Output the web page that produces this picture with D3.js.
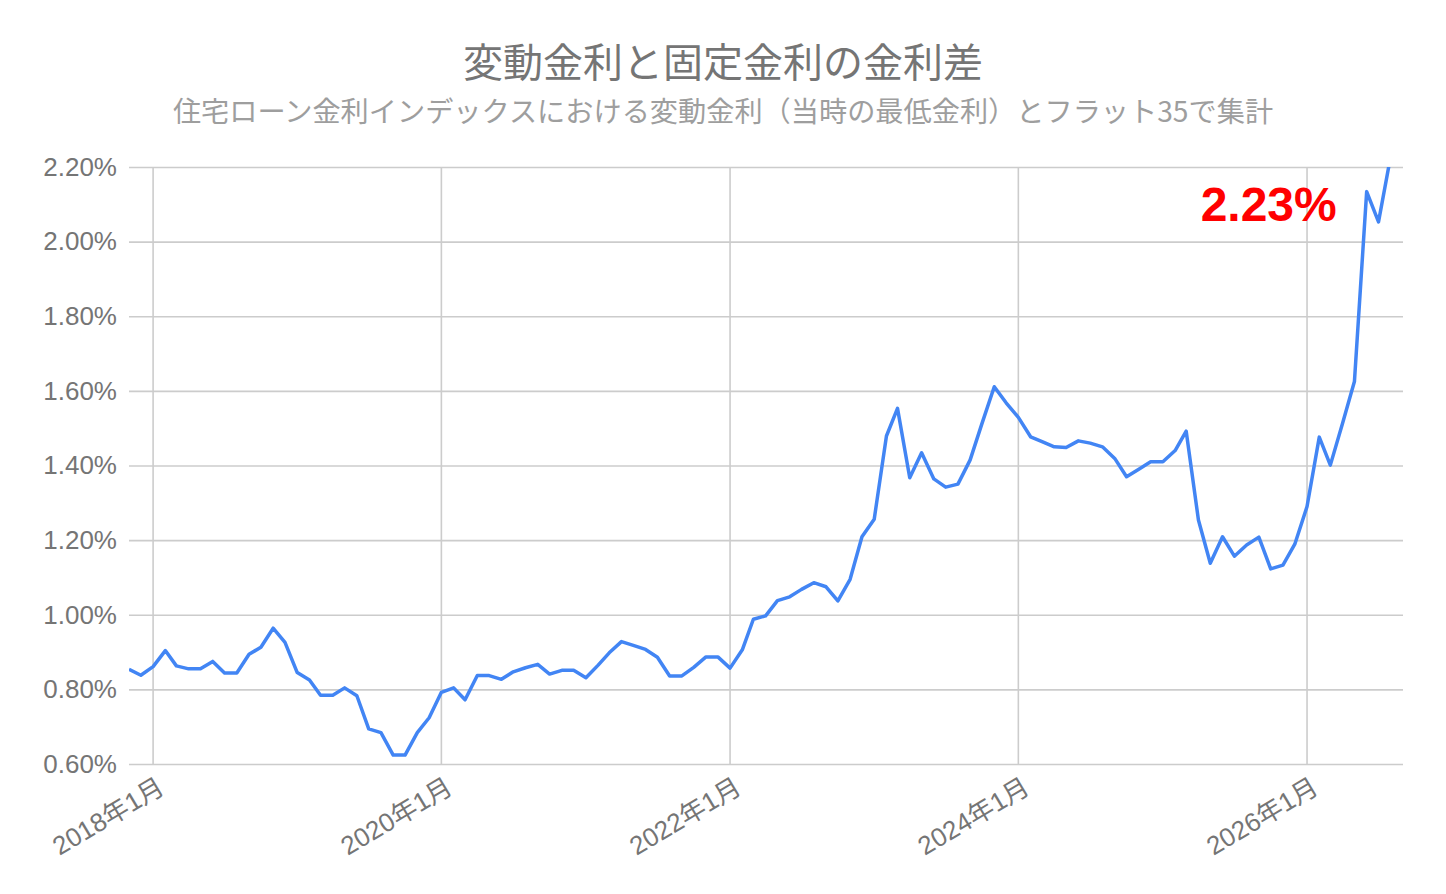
<!DOCTYPE html>
<html>
<head>
<meta charset="utf-8">
<script src="https://cdn.jsdelivr.net/npm/d3@7"></script>
<style>
  body { margin: 0; background: #fff; }
  text { font-family: "Liberation Sans", "Noto Sans CJK JP", sans-serif; }
  .jp { font-family: "Noto Sans CJK JP", sans-serif; }
</style>
</head>
<body>
<script>
'use strict';

// monthly values, 2017-11 .. 2026-08 (変動金利と固定金利の差, %)
let startMonth = "2017-11";
let spread = [
  0.854, 0.838,
  0.861, 0.904, 0.863, 0.855, 0.855, 0.875, 0.844, 0.844, 0.894, 0.913, 0.964, 0.926,
  0.845, 0.825, 0.784, 0.784, 0.804, 0.783, 0.694, 0.684, 0.624, 0.624, 0.684, 0.724,
  0.792, 0.804, 0.772, 0.837, 0.837, 0.827, 0.847, 0.858, 0.867, 0.841, 0.851, 0.851,
  0.831, 0.865, 0.898, 0.928, 0.918, 0.907, 0.886, 0.836, 0.836, 0.859, 0.887, 0.887,
  0.857, 0.906, 0.988, 0.997, 1.038, 1.048, 1.068, 1.086, 1.075, 1.037, 1.095, 1.209,
  1.256, 1.479, 1.553, 1.367, 1.434, 1.364, 1.342, 1.350, 1.415, 1.513, 1.611, 1.568,
  1.529, 1.477, 1.464, 1.450, 1.448, 1.466, 1.460, 1.450, 1.419, 1.370, 1.390, 1.410,
  1.410, 1.440, 1.492, 1.254, 1.138, 1.209, 1.157, 1.187, 1.208, 1.123, 1.133, 1.189,
  1.290, 1.476, 1.401, 1.513, 1.625, 2.134, 2.053, 2.230
];
let xTickMonths = ["2018-01", "2020-01", "2022-01", "2024-01", "2026-01"];
let yTicks = [0.6, 0.8, 1.0, 1.2, 1.4, 1.6, 1.8, 2.0, 2.2];

let title = "変動金利と固定金利の金利差";
let subtitle = "住宅ローン金利インデックスにおける変動金利（当時の最低金利）とフラット35で集計";

let W = 1446, H = 894;
let margin = {top: 167, right: 43, bottom: 130, left: 129};
let width = W - margin.left - margin.right,
    height = H - margin.top - margin.bottom;

let parseMonth = d3.timeParse("%Y-%m");
let t0 = parseMonth(startMonth);
let myData = spread.map((v, i) => ({date: d3.timeMonth.offset(t0, i), value: v}));

let svg = d3.select("body").append("svg")
  .attr("width", W)
  .attr("height", H);

svg.append("text")
  .attr("class", "jp")
  .attr("x", W / 2)
  .attr("y", 60)
  .attr("text-anchor", "middle")
  .attr("dominant-baseline", "central")
  .attr("font-size", 40)
  .attr("fill", "#757575")
  .text(title);

svg.append("text")
  .attr("class", "jp")
  .attr("x", W / 2)
  .attr("y", 109)
  .attr("text-anchor", "middle")
  .attr("dominant-baseline", "central")
  .attr("font-size", 28.2)
  .attr("fill", "#9e9e9e")
  .text(subtitle);

let g = svg.append("g")
  .attr("transform", `translate(${margin.left},${margin.top})`);

let x = d3.scaleTime()
  .domain([t0, d3.timeMonth.offset(t0, spread.length)])
  .range([0, width]);

let y = d3.scaleLinear()
  .domain([0.6, 2.2])
  .range([height, 0]);

// horizontal grid + y labels
let yAxis = g.append("g")
  .call(d3.axisLeft(y)
    .tickValues(yTicks)
    .tickSize(-width)
    .tickPadding(12)
    .tickFormat(d => d3.format(".2f")(d) + "%"));
yAxis.select(".domain").remove();
yAxis.selectAll("line").attr("stroke", "#cccccc").attr("stroke-width", 1.6);
yAxis.selectAll("text")
  .attr("font-size", 26)
  .attr("fill", "#757575");

// vertical grid
g.append("g")
  .selectAll("line")
  .data(xTickMonths.map(parseMonth))
  .enter()
  .append("line")
  .attr("x1", d => x(d)).attr("x2", d => x(d))
  .attr("y1", 0).attr("y2", height)
  .attr("stroke", "#cccccc")
  .attr("stroke-width", 1.6);

// x labels (rotated)
g.append("g")
  .selectAll("text")
  .data(xTickMonths.map(parseMonth))
  .enter()
  .append("text")
  .attr("transform", d => `translate(${x(d) + 13},${height + 28}) rotate(-31)`)
  .attr("text-anchor", "end")
  .attr("font-size", 26)
  .attr("fill", "#757575")
  .text(d => d3.timeFormat("%Y年%-m月")(d));

g.append("clipPath")
  .attr("id", "plot-clip")
  .append("rect")
  .attr("x", 0).attr("y", 0)
  .attr("width", width).attr("height", height);

let line = d3.line()
  .x(d => x(d.date))
  .y(d => y(d.value));

g.append("path")
  .datum(myData)
  .attr("clip-path", "url(#plot-clip)")
  .attr("fill", "none")
  .attr("stroke", "#4285f4")
  .attr("stroke-width", 3.5)
  .attr("stroke-linejoin", "round")
  .attr("d", line);

// latest value label
let last = myData[myData.length - 1];
g.append("text")
  .attr("x", x(last.date) - 54)
  .attr("y", y(2.055))
  .attr("text-anchor", "end")
  .attr("font-size", 48)
  .attr("font-weight", "bold")
  .attr("fill", "#ff0000")
  .text(d3.format(".2f")(last.value) + "%");
</script>
</body>
</html>
